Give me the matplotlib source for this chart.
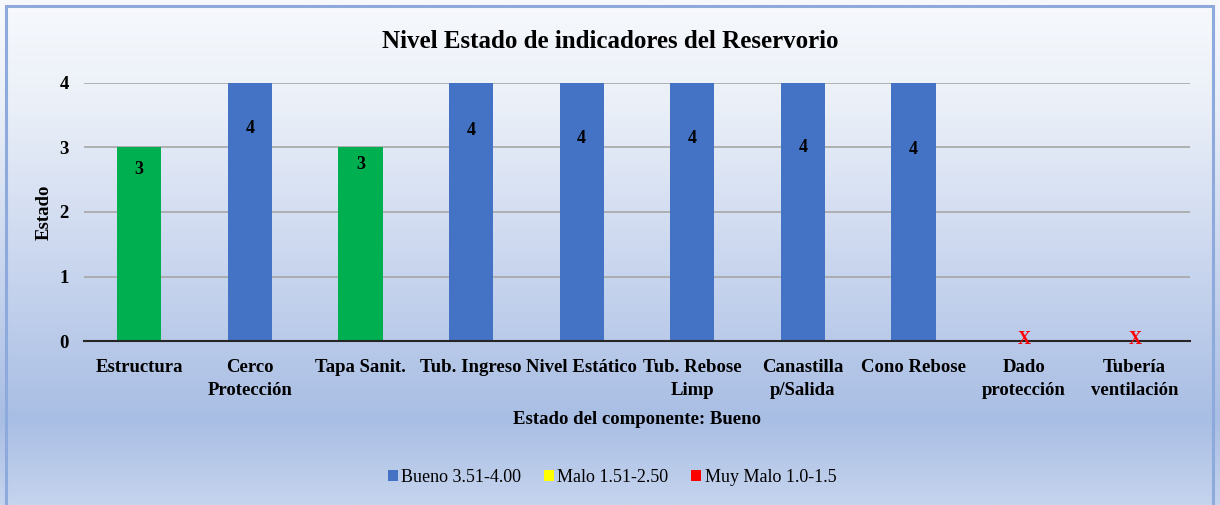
import numpy as np
import matplotlib
matplotlib.use("Agg")
import matplotlib.pyplot as plt
from matplotlib.patches import Patch, Rectangle
from matplotlib.colors import LinearSegmentedColormap

plt.rcParams['font.family'] = ['Liberation Serif', 'DejaVu Serif']

# data
componentes = ['Estructura', 'Cerco\nProtección', 'Tapa Sanit.', 'Tub. Ingreso',
               'Nivel Estático', 'Tub. Rebose\nLimp', 'Canastilla\np/Salida',
               'Cono Rebose', 'Dado\nprotección', 'Tubería\nventilación']
estado = [3, 4, 3, 4, 4, 4, 4, 4, np.nan, np.nan]
leyenda = ['Bueno 3.51-4.00', 'Malo 1.51-2.50', 'Muy Malo 1.0-1.5']

# label heights inside the bars (as placed in the original)
label_y = [2.66, 3.29, 2.74, 3.26, 3.14, 3.14, 3.0, 2.97]

verde = '#00B050'
azul = '#4472C4'
colores_leyenda = ['#4472C4', '#FFFF00', '#FF0000']

fig = plt.figure(figsize=(12.2, 5.05), dpi=100)

# gradient background (image is cropped at the bottom, no lower border)
bg = fig.add_axes([0, 0, 1, 1], zorder=-10)
cmap = LinearSegmentedColormap.from_list(
    'bg', [(0.0, '#F7F9FD'), (0.2, '#EBF0F8'), (0.5, '#CCD8EF'),
           (0.83, '#A9BEE4'), (1.0, '#C5D4EE')])
grad = np.linspace(0, 1, 256).reshape(-1, 1)
bg.imshow(grad, aspect='auto', cmap=cmap, extent=[0, 1, 0, 1], origin='upper')
bg.set_xlim(0, 1)
bg.set_ylim(0, 1)
bg.axis('off')
bg.add_patch(Rectangle((6/1220, -0.05), 1207/1220, 1.05 - 6/505, fill=False,
                       edgecolor='#8EA9DB', lw=2.2, transform=bg.transAxes))

ax = fig.add_axes([84/1220, 164/505, 1106/1220, 258/505])
ax.patch.set_alpha(0)

x = np.arange(len(componentes))
vals = np.nan_to_num(estado)
cols = [verde if v == 3 else azul for v in vals]
ax.bar(x, vals, width=0.4, color=cols, zorder=3)

for i, v in enumerate(estado):
    if np.isnan(v):
        ax.text(i, 0.02, 'X', color='red', fontsize=13, fontweight='bold',
                ha='center', va='center', zorder=5)
    else:
        ax.text(i, label_y[i], f'{int(v)}', ha='center', va='center',
                fontsize=13, fontweight='bold', zorder=5)

ax.set_xlim(-0.5, len(componentes) - 0.5)
ax.set_ylim(0, 4)
ax.set_yticks([0, 1, 2, 3, 4])
ax.yaxis.grid(True, color='#A6A6A6', lw=1.2, zorder=0)
ax.set_axisbelow(True)
for s in ['top', 'right', 'left']:
    ax.spines[s].set_visible(False)
ax.spines['bottom'].set_color('#262626')
ax.spines['bottom'].set_linewidth(1.5)
ax.spines['bottom'].set_zorder(4)
ax.tick_params(axis='both', length=0)
ax.tick_params(axis='y', pad=11)
ax.tick_params(axis='x', pad=13)
ax.set_xticks(x)
ax.set_xticklabels(componentes, fontsize=13.5, fontweight='bold', linespacing=1.45)
for t in ax.get_yticklabels():
    t.set_fontsize(13.5)
    t.set_fontweight('bold')

ax.set_ylabel('Estado', fontsize=13.5, fontweight='bold', labelpad=5)
ax.set_xlabel('Estado del componente: Bueno', fontsize=13.5, fontweight='bold', labelpad=9)

fig.text(610/1220, 1 - 41/505, 'Nivel Estado de indicadores del Reservorio',
         ha='center', va='center', fontsize=18, fontweight='bold')

handles = [Patch(facecolor=c, edgecolor='none') for c in colores_leyenda]
fig.legend(handles, leyenda, loc='center', bbox_to_anchor=(612/1220, 1 - 477/505),
           ncol=3, frameon=False, fontsize=13, handlelength=0.55, handleheight=0.55,
           handletextpad=0.2, columnspacing=1.25)

fig.savefig('out.png', dpi=100)
